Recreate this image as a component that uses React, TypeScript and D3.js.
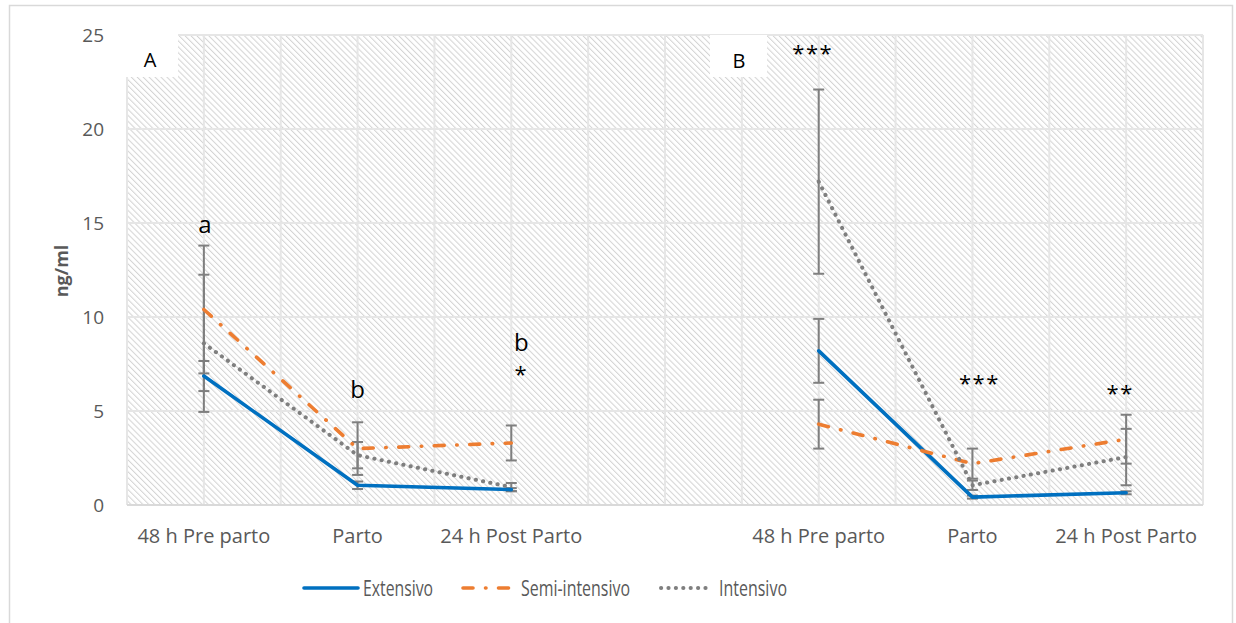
import React from "react";
import * as d3 from "d3";

const categories = ["48 h Pre parto", "Parto", "24 h Post Parto", "", "48 h Pre parto", "Parto", "24 h Post Parto"];
const yTicks = [0, 5, 10, 15, 20, 25];

const extensivo = [6.86, 1.05, 0.82, null, 8.2, 0.42, 0.65];
const extensivoErr = [0.8, 0.2, 0.08, null, 1.7, 0.08, 0.08];
const semiIntensivo = [10.4, 3.0, 3.3, null, 4.3, 2.2, 3.5];
const semiIntensivoErr = [3.4, 1.4, 0.93, null, 1.3, 0.8, 1.3];
const intensivo = [8.6, 2.65, 0.95, null, 17.2, 1.05, 2.55];
const intensivoErr = [3.65, 0.7, 0.22, null, 4.9, 0.25, 1.5];

const seriesNames = ["Extensivo", "Semi-intensivo", "Intensivo"];

// significance marks: category index, value level, text
const marks = [
  { cat: 0, v: 15.0, text: "a", dx: 1, kind: "letter" },
  { cat: 1, v: 6.2, text: "b", dx: 0, kind: "letter" },
  { cat: 2, v: 8.7, text: "b", dx: 10, kind: "letter" },
  { cat: 2, v: 7.0, text: "*", dx: 10, kind: "star" },
  { cat: 4, v: 24.1, text: "***", dx: -6, kind: "star" },
  { cat: 5, v: 6.55, text: "***", dx: 7, kind: "star" },
  { cat: 6, v: 6.0, text: "**", dx: -6, kind: "star" },
];

const W = 1236;
const H = 623;
const plot = { left: 127, right: 1203, top: 35, bottom: 505 };
const FONT = "'Open Sans', sans-serif";
const AXIS_COLOR = "#595959";

const x = d3.scaleBand<number>().domain(d3.range(categories.length)).range([plot.left, plot.right]).padding(0);
const y = d3.scaleLinear().domain([0, 25]).range([plot.bottom, plot.top]);
const cx = (i: number) => (x(i) as number) + x.bandwidth() / 2;

const seriesData = [
  { name: seriesNames[0], values: extensivo, err: extensivoErr, color: "#0070C0", width: 3.6, dash: undefined as string | undefined, cap: "round" },
  { name: seriesNames[1], values: semiIntensivo, err: semiIntensivoErr, color: "#ED7D31", width: 3.6, dash: "10 12.5 0.5 12.5", cap: "round" },
  { name: seriesNames[2], values: intensivo, err: intensivoErr, color: "#7F7F7F", width: 4, dash: "0.2 7.2", cap: "round" },
];

const lineGen = d3
  .line<number | null>()
  .defined((d) => d !== null)
  .x((_, i) => cx(i))
  .y((d) => y(d as number));

export default function App() {
  const gridX: number[] = [];
  for (let k = 0; k <= categories.length * 2; k++) gridX.push(plot.left + (k * x.bandwidth()) / 2);

  const legendItems = [
    { x1: 304, x2: 358, tx: 363, tl: 70 },
    { x1: 463, x2: 515, tx: 521, tl: 109 },
    { x1: 661, x2: 706, tx: 719, tl: 68 },
  ];

  return (
    <svg width={W} height={H} style={{ position: "absolute", left: 0, top: 0, background: "#fff" }} fontFamily={FONT}>
      <defs>
        <pattern id="hatch" patternUnits="userSpaceOnUse" width={4.2} height={4.2} patternTransform="rotate(-45)">
          <rect width={4.2} height={4.2} fill="#ffffff" />
          <line x1={0.5} y1={0} x2={0.5} y2={4.2} stroke="#d4d4d4" strokeWidth={1.05} />
        </pattern>
      </defs>
      <rect x={9.5} y={5.5} width={1223} height={640} fill="#fff" stroke="#d9d9d9" strokeWidth={1.5} />

      {/* plot area */}
      <rect x={plot.left} y={plot.top} width={plot.right - plot.left} height={plot.bottom - plot.top} fill="url(#hatch)" />
      {yTicks.map((t) => (
        <line key={"gy" + t} x1={plot.left} x2={plot.right} y1={y(t)} y2={y(t)} stroke="#e6e6e6" strokeWidth={2} />
      ))}
      {gridX.map((gx, k) => (
        <line key={"gx" + k} x1={gx} x2={gx} y1={plot.top} y2={plot.bottom} stroke="#e6e6e6" strokeWidth={2} />
      ))}
      <line x1={plot.left} x2={plot.right} y1={y(0)} y2={y(0)} stroke="#d9d9d9" strokeWidth={2} />

      {/* panel label boxes */}
      <rect x={126} y={34} width={52} height={43} fill="#fff" />
      <text x={150} y={59} fontSize={20} textAnchor="middle" dominantBaseline="central" fill="#000">A</text>
      <rect x={710} y={35} width={57} height={42} fill="#fff" />
      <text x={739} y={60} fontSize={20} textAnchor="middle" dominantBaseline="central" fill="#000">B</text>

      {/* y axis labels */}
      {yTicks.map((t) => (
        <text key={"yt" + t} x={104} y={y(t)} fontSize={19} textAnchor="end" dominantBaseline="central" fill={AXIS_COLOR}>
          {t}
        </text>
      ))}
      <text
        transform={`translate(61,${(plot.top + plot.bottom) / 2 + 1}) rotate(-90)`}
        fontSize={18}
        fontWeight="bold"
        textAnchor="middle"
        dominantBaseline="central"
        fill={AXIS_COLOR}
      >
        ng/ml
      </text>

      {/* x axis labels */}
      {categories.map((c, i) => (
        <text key={"xt" + i} x={cx(i)} y={535} fontSize={20} textAnchor="middle" dominantBaseline="central" fill={AXIS_COLOR}>
          {c}
        </text>
      ))}

      {/* error bars */}
      {seriesData.map((s) =>
        s.values.map((v, i) => {
          if (v === null) return null;
          const e = s.err[i] as number;
          const px = cx(i);
          const y1 = y(v + e);
          const y2 = y(Math.max(0, v - e));
          return (
            <g key={s.name + "e" + i} stroke="#7F7F7F" strokeWidth={2}>
              <line x1={px} x2={px} y1={y1} y2={y2} />
              <line x1={px - 5.5} x2={px + 5.5} y1={y1} y2={y1} />
              <line x1={px - 5.5} x2={px + 5.5} y1={y2} y2={y2} />
            </g>
          );
        })
      )}

      {/* lines */}
      {seriesData.map((s) => (
        <path
          key={s.name}
          d={lineGen(s.values) || ""}
          fill="none"
          stroke={s.color}
          strokeWidth={s.width}
          strokeDasharray={s.dash}
          strokeLinecap={s.cap as any}
          strokeLinejoin="round"
        />
      ))}

      {/* significance marks */}
      {marks.map((m, k) => (
        <text
          key={"m" + k}
          x={cx(m.cat) + m.dx}
          y={y(m.v)}
          fontSize={m.kind === "star" ? 22 : 24}
          textAnchor="middle"
          dominantBaseline="central"
          fill="#000"
          letterSpacing={m.kind === "star" ? 1.5 : 0}
        >
          {m.text}
        </text>
      ))}

      {/* legend */}
      {seriesData.map((s, k) => {
        const L = legendItems[k];
        return (
          <g key={"lg" + k}>
            <line x1={L.x1} x2={L.x2} y1={588} y2={588} stroke={s.color} strokeWidth={s.width} strokeDasharray={s.dash} strokeLinecap={s.cap as any} />
            <text x={L.tx} y={588} fontSize={21} dominantBaseline="central" fill={AXIS_COLOR} textLength={L.tl} lengthAdjust="spacingAndGlyphs">
              {s.name}
            </text>
          </g>
        );
      })}
    </svg>
  );
}
